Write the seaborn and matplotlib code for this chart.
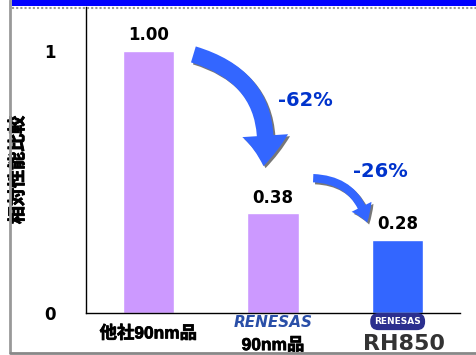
import matplotlib
matplotlib.use('Agg')
import matplotlib.pyplot as plt
import matplotlib.patches as mpatches
import matplotlib.patheffects as pe
from matplotlib.lines import Line2D
from matplotlib.transforms import offset_copy
import seaborn as sns

# data
categories = ['他社90nm品', 'RENESAS 90nm品', 'RH850']
values = [1.00, 0.38, 0.28]
value_labels = ['1.00', '0.38', '0.28']
bar_colors = ['#CC99FF', '#CC99FF', '#3366FF']
drops = ['-62%', '-26%']
ylabel = '相対性能比較'

sns.set_theme(style='white')
plt.rcParams['font.family'] = ['DejaVu Sans', 'Noto Sans CJK JP']
plt.rcParams['text.color'] = 'black'
plt.rcParams['axes.labelcolor'] = 'black'
plt.rcParams['ytick.labelcolor'] = 'black'

# slightly heavier CJK strokes
fat = [pe.withStroke(linewidth=0.5, foreground='black')]

fig = plt.figure(figsize=(4.76, 3.55), dpi=100)
ax = fig.add_axes([86/476, 1 - 313/355, (460 - 86)/476, (313 - 7)/355])

sns.barplot(x=categories, y=values, hue=categories, palette=bar_colors,
            width=0.41, legend=False, ax=ax, saturation=1)

ax.set_xlim(-0.5, 2.5)
ax.set_ylim(0, 1.168)
for s in ['top', 'right']:
    ax.spines[s].set_visible(False)
for s in ['left', 'bottom']:
    ax.spines[s].set_color('black')
    ax.spines[s].set_linewidth(1)

ax.set_yticks([0, 1])
ax.set_yticklabels(['0', '1'], fontsize=12, fontweight='bold', color='black')
ax.tick_params(axis='y', direction='in', length=5, pad=22, color='black')
ax.set_xticks([-0.5, 0.5, 1.5, 2.5])
ax.set_xticklabels([])
ax.tick_params(axis='x', direction='in', length=4, color='black')
ax.set_xlabel('')
ax.set_ylabel(ylabel, fontsize=13, fontweight='bold', color='black',
              family=['Noto Sans CJK JP'],
              path_effects=[pe.withStroke(linewidth=0.6, foreground='black')])
ax.yaxis.set_label_coords(-0.158, 0.467)

# value labels
for i, (v, lab) in enumerate(zip(values, value_labels)):
    ax.text(i, v + 0.025, lab, ha='center', va='bottom', fontsize=12,
            fontweight='bold', color='black')

# x category labels (text versions of the logos)
trans = ax.get_xaxis_transform()
cjk = ['Liberation Sans', 'Noto Sans CJK JP']
ax.text(0, -0.065, categories[0], transform=trans, ha='center', va='center',
        fontsize=12.5, fontweight='bold', family=cjk, color='black',
        path_effects=fat, clip_on=False)
ax.text(1, -0.03, 'RENESAS', transform=trans, ha='center', va='center',
        fontsize=11, fontstyle='italic', fontweight='bold', color='#2a4fa8',
        clip_on=False)
ax.text(1, -0.105, '90nm品', transform=trans, ha='center', va='center',
        fontsize=12.5, fontweight='bold', color='black', family=cjk,
        path_effects=fat, clip_on=False)
ax.text(2, -0.028, 'RENESAS', transform=trans, ha='center', va='center',
        fontsize=6.5, fontweight='bold', color='white', clip_on=False,
        bbox=dict(boxstyle='round,pad=0.45,rounding_size=0.9', fc='#2b2f8f', ec='none'))
ax.text(2.05, -0.1, 'RH850', transform=trans, ha='center', va='center',
        fontsize=16, fontweight='bold', color='#333333', clip_on=False)

# curved drop arrows with shadow
def drop_arrow(p0, p1, rad, hw, hl, tw):
    style = f'simple,head_width={hw},head_length={hl},tail_width={tw}'
    shadow = mpatches.FancyArrowPatch(p0, p1, connectionstyle=f'arc3,rad={rad}',
                                      arrowstyle=style, color='#777777', lw=0,
                                      zorder=3)
    shadow.set_transform(offset_copy(ax.transData, fig=fig, x=2, y=-2, units='dots'))
    ax.add_patch(shadow)
    arr = mpatches.FancyArrowPatch(p0, p1, connectionstyle=f'arc3,rad={rad}',
                                   arrowstyle=style, color='#3366FF', lw=0, zorder=4)
    ax.add_patch(arr)

drop_arrow((0.34, values[0] - 0.01), (0.92, values[1] + 0.17), -0.45, 33, 22, 12)
drop_arrow((1.30, values[1] + 0.135), (1.76, values[2] + 0.055), -0.4, 16, 12, 6)

ax.text(1.26, 0.81, drops[0], ha='center', va='center', fontsize=14,
        color='#0033CC', fontweight='bold')
ax.text(1.86, 0.54, drops[1], ha='center', va='center', fontsize=14,
        color='#0033CC', fontweight='bold')

# outer frame
fig.patches.append(mpatches.Rectangle((12/476, 1 - 6/355), 1, 6/355,
                                      transform=fig.transFigure, fc='#0000FF', ec='none'))
fig.lines.append(Line2D([12/476, 1], [1 - 8/355, 1 - 8/355], transform=fig.transFigure,
                        color='#999999', lw=1.5, ls=(0, (1, 1))))
fig.lines.append(Line2D([10/476, 10/476], [3/355, 1], transform=fig.transFigure,
                        color='#999999', lw=2))
fig.lines.append(Line2D([10/476, 1], [2.5/355, 2.5/355], transform=fig.transFigure,
                        color='#888888', lw=2))

fig.savefig('out.png', dpi=100)
